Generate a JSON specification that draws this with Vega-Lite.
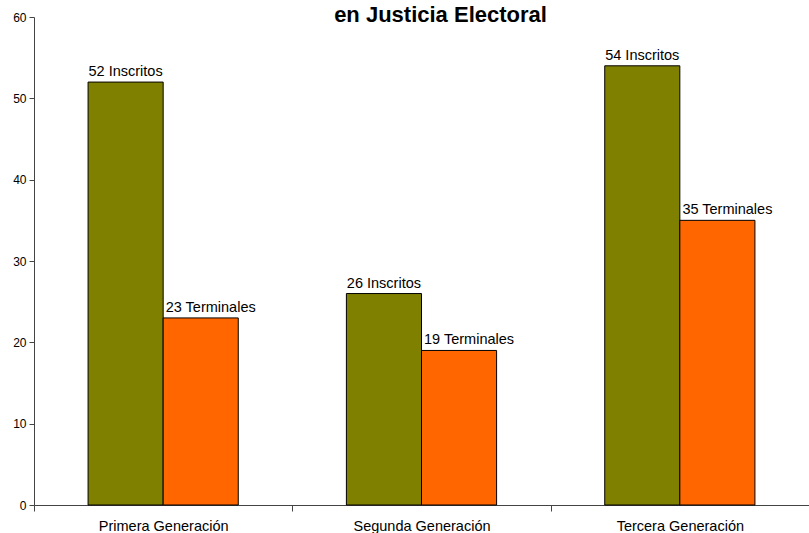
{
  "$schema": "https://vega.github.io/schema/vega-lite/v6.json",
  "width": 775,
  "height": 488,
  "autosize": {"type": "none"},
  "padding": {"left": 34, "top": 17, "right": 0, "bottom": 28},
  "background": "white",
  "title": {
    "text": "en Justicia Electoral",
    "font": "Liberation Sans",
    "fontSize": 22,
    "fontWeight": "bold",
    "color": "black",
    "baseline": "alphabetic",
    "offset": -33,
    "dx": 19,
    "anchor": "middle"
  },
  "data": {
    "values": [
      {"generacion": "Primera Generación", "tipo": "Inscritos", "valor": 52, "label": "52 Inscritos"},
      {"generacion": "Primera Generación", "tipo": "Terminales", "valor": 23, "label": "23 Terminales"},
      {"generacion": "Segunda Generación", "tipo": "Inscritos", "valor": 26, "label": "26 Inscritos"},
      {"generacion": "Segunda Generación", "tipo": "Terminales", "valor": 19, "label": "19 Terminales"},
      {"generacion": "Tercera Generación", "tipo": "Inscritos", "valor": 54, "label": "54 Inscritos"},
      {"generacion": "Tercera Generación", "tipo": "Terminales", "valor": 35, "label": "35 Terminales"}
    ]
  },
  "encoding": {
    "x": {
      "field": "generacion",
      "type": "nominal",
      "sort": null,
      "scale": {"paddingInner": 0, "paddingOuter": 0},
      "axis": {
        "title": null,
        "labelAngle": 0,
        "labelFont": "Liberation Sans",
        "labelFontSize": 14.5,
        "labelColor": "black",
        "labelPadding": 8,
        "tickBand": "extent",
        "tickSize": 6,
        "domainColor": "#444444",
        "tickColor": "#444444"
      }
    },
    "xOffset": {
      "field": "tipo",
      "type": "nominal",
      "scale": {"paddingInner": 0, "paddingOuter": 0.72}
    },
    "y": {
      "field": "valor",
      "type": "quantitative",
      "scale": {"domain": [0, 60], "nice": false},
      "axis": {
        "title": null,
        "values": [0, 10, 20, 30, 40, 50, 60],
        "grid": false,
        "labelFont": "Liberation Sans",
        "labelFontSize": 12,
        "labelColor": "black",
        "tickSize": 5,
        "labelPadding": 3,
        "domainColor": "#444444",
        "tickColor": "#444444"
      }
    }
  },
  "layer": [
    {
      "mark": {"type": "bar", "stroke": "black", "strokeWidth": 1},
      "encoding": {
        "color": {
          "field": "tipo",
          "type": "nominal",
          "scale": {"domain": ["Inscritos", "Terminales"], "range": ["#808000", "#FF6600"]},
          "legend": null
        }
      }
    },
    {
      "transform": [{"filter": "datum.tipo === 'Inscritos'"}],
      "mark": {"type": "text", "baseline": "alphabetic", "dy": -6, "font": "Liberation Sans", "fontSize": 14.5, "color": "black"},
      "encoding": {"text": {"field": "label"}}
    },
    {
      "transform": [{"filter": "datum.tipo === 'Terminales'"}],
      "mark": {"type": "text", "baseline": "alphabetic", "dy": -6, "dx": 10, "font": "Liberation Sans", "fontSize": 14.5, "color": "black"},
      "encoding": {"text": {"field": "label"}}
    }
  ],
  "config": {"view": {"stroke": null}}
}
